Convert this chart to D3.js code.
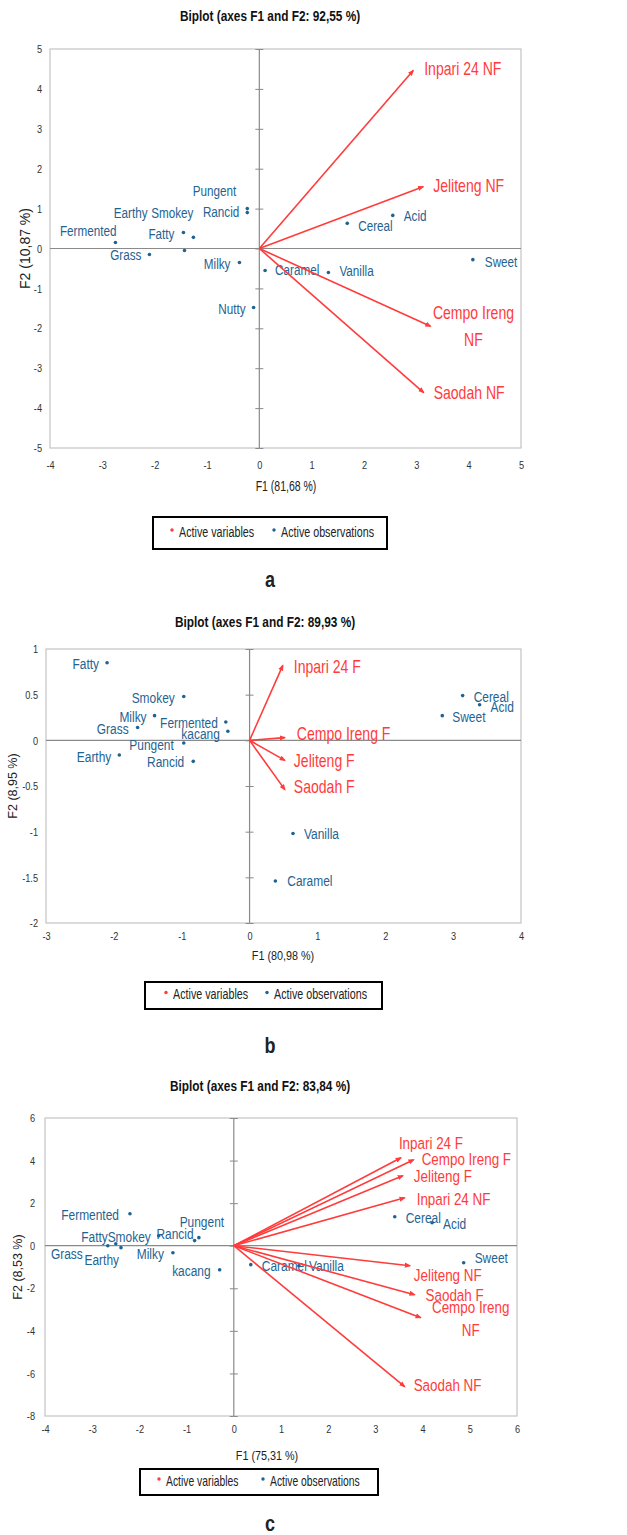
<!DOCTYPE html>
<html>
<head>
<meta charset="utf-8">
<script src="https://cdn.jsdelivr.net/npm/d3@7"></script>
<style>
  body { margin: 0; background: #fff; }
  svg { display: block; }
  .lbl { font-family: "Liberation Sans", Arial, sans-serif; }
  .ttl { font-family: "Liberation Sans", Arial, sans-serif; font-weight: bold; }
</style>
</head>
<body>
<svg id="chart" width="627" height="1535"></svg>
<script>
// ---- panel a ----
const aVarNames = ["Inpari 24 NF", "Jeliteng NF", "Cempo Ireng NF", "Saodah NF"];
const aVarF1 = [2.94, 3.13, 3.27, 3.14];
const aVarF2 = [4.46, 1.55, -1.95, -3.61];
const aObsNames = ["Fermented", "Earthy", "Smokey", "Fatty", "Grass", "Milky", "Nutty", "Pungent", "Rancid", "Caramel", "Vanilla", "Cereal", "Acid", "Sweet"];
const aObsF1 = [-2.75, -1.43, -1.26, -1.45, -2.10, -0.38, -0.11, -0.23, -0.23, 0.11, 1.32, 1.68, 2.55, 4.08];
const aObsF2 = [0.15, -0.05, 0.28, 0.40, -0.15, -0.35, -1.48, 1.00, 0.90, -0.55, -0.60, 0.63, 0.83, -0.28];
const aXTicks = [-4, -3, -2, -1, 0, 1, 2, 3, 4, 5];
const aYTicks = [-5, -4, -3, -2, -1, 0, 1, 2, 3, 4, 5];

// ---- panel b ----
const bVarNames = ["Inpari 24 F", "Cempo Ireng F", "Jeliteng F", "Saodah F"];
const bVarF1 = [0.49, 0.52, 0.52, 0.52];
const bVarF2 = [0.82, 0.03, -0.22, -0.54];
const bObsNames = ["Fatty", "Smokey", "Milky", "Grass", "Fermented", "kacang", "Pungent", "Earthy", "Rancid", "Cereal", "Acid", "Sweet", "Vanilla", "Caramel"];
const bObsF1 = [-2.10, -0.97, -1.40, -1.65, -0.35, -0.32, -0.97, -1.92, -0.83, 3.14, 3.39, 2.84, 0.64, 0.38];
const bObsF2 = [0.85, 0.48, 0.27, 0.14, 0.20, 0.10, -0.03, -0.16, -0.23, 0.49, 0.39, 0.27, -1.02, -1.54];
const bXTicks = [-3, -2, -1, 0, 1, 2, 3, 4];
const bYTicks = [-2, -1.5, -1, -0.5, 0, 0.5, 1];

// ---- panel c ----
const cVarNames = ["Inpari 24 F", "Cempo Ireng F", "Jeliteng F", "Inpari 24 NF", "Jeliteng NF", "Saodah F", "Cempo Ireng NF", "Saodah NF"];
const cVarF1 = [3.54, 3.81, 3.58, 3.62, 3.73, 3.83, 3.96, 3.62];
const cVarF2 = [4.13, 4.04, 3.29, 2.25, -0.94, -2.30, -3.38, -6.62];
const cObsNames = ["Fermented", "Pungent", "Rancid", "Smokey", "Fatty", "Grass", "Earthy", "Milky", "kacang", "Caramel", "Vanilla", "Cereal", "Acid", "Sweet"];
const cObsF1 = [-2.20, -0.74, -0.83, -1.59, -2.50, -2.67, -2.39, -1.29, -0.30, 0.36, 1.38, 3.41, 4.20, 4.87];
const cObsF2 = [1.50, 0.38, 0.24, 0.47, 0.09, 0.00, -0.09, -0.33, -1.13, -0.89, -0.94, 1.36, 1.08, -0.80];
const cXTicks = [-4, -3, -2, -1, 0, 1, 2, 3, 4, 5, 6];
const cYTicks = [-8, -6, -4, -2, 0, 2, 4, 6];

// label placement: [dx, dy, anchor] from the point, in px
const aPlace = {
  "Inpari 24 NF": [11, 0, "start"], "Jeliteng NF": [10, 1, "start"], "Cempo Ireng NF": [43, -12, "middle"], "Saodah NF": [10, 2, "start"],
  Fermented: [1, -10, "end"], Earthy: [-37, -36, "end"], Smokey: [0, -23, "end"], Fatty: [-9, 3, "end"],
  Grass: [-8, 2, "end"], Milky: [-9, 3, "end"], Nutty: [-8, 2, "end"], Pungent: [-11, -17, "end"], Rancid: [-8, 0, "end"],
  Caramel: [10, 1, "start"], Vanilla: [11, 0, "start"], Cereal: [11, 4, "start"], Acid: [11, 2, "start"], Sweet: [12, 3, "start"]
};
const bPlace = {
  "Inpari 24 F": [11, 3, "start"], "Cempo Ireng F": [12, -2, "start"], "Jeliteng F": [9, 2, "start"], "Saodah F": [9, -1, "start"],
  Fatty: [-8, 2, "end"], Smokey: [-9, 2, "end"], Milky: [-8, 2, "end"], Grass: [-9, 2, "end"], Fermented: [-8, 2, "end"],
  kacang: [-8, 4, "end"], Pungent: [-10, 3, "end"], Earthy: [-8, 3, "end"], Rancid: [-9, 2, "end"],
  Cereal: [11, 2, "start"], Acid: [11, 3, "start"], Sweet: [10, 2, "start"], Vanilla: [11, 1, "start"], Caramel: [12, 1, "start"]
};
const cPlace = {
  "Inpari 24 F": [-2, -13, "start"], "Cempo Ireng F": [8, 1, "start"], "Jeliteng F": [11, 2, "start"], "Inpari 24 NF": [12, 3, "start"],
  "Jeliteng NF": [4, 11, "start"], "Saodah F": [11, 2, "start"], "Cempo Ireng NF": [50, -9, "middle"], "Saodah NF": [9, 0, "start"],
  Fermented: [-11, 2, "end"], Pungent: [3, -15, "middle"], Rancid: [-1, -6, "end"], Smokey: [-8, 2, "end"], Fatty: [-8, -6, "end"],
  Grass: [-25, 9, "end"], Earthy: [-2, 13, "end"], Milky: [-9, 2, "end"], kacang: [-9, 2, "end"],
  Caramel: [11, 2, "start"], Vanilla: [10, 1, "start"], Cereal: [11, 2, "start"], Acid: [11, 2, "start"], Sweet: [11, -4, "start"]
};

const RED = "#ff3b3b";
const BLUE = "#1f6391";
const NARROW = 0.78; // source picture is squeezed sideways
const svg = d3.select("#chart");

svg.append("defs").append("marker")
  .attr("id", "arr")
  .attr("viewBox", "0 0 10 10")
  .attr("refX", 8).attr("refY", 5)
  .attr("markerWidth", 4).attr("markerHeight", 4)
  .attr("orient", "auto")
  .append("path").attr("d", "M0,1 L10,5 L0,9 Z").attr("fill", RED);

function squeeze(px, py, s) {
  return `translate(${px},${py}) scale(${s},1)`;
}

function drawPanel(p) {
  const g = svg.append("g");
  const x = d3.scaleLinear().domain(p.xDom).range([p.left, p.right]);
  const y = d3.scaleLinear().domain(p.yDom).range([p.bottom, p.top]);

  g.append("text").attr("class", "ttl")
    .attr("transform", squeeze(p.titleX, p.titleY, 0.79))
    .attr("text-anchor", "middle").attr("dominant-baseline", "middle")
    .attr("font-size", 15).attr("fill", "#111")
    .text(p.title);

  // frame
  g.append("rect")
    .attr("x", p.left).attr("y", p.top)
    .attr("width", p.right - p.left).attr("height", p.bottom - p.top)
    .attr("fill", "none").attr("stroke", "#c4c4c4").attr("stroke-width", 1.2);

  // tick labels on the frame
  const yAx = g.append("g").attr("transform", `translate(${p.left},0)`)
    .call(d3.axisLeft(y).tickValues(p.yTicks).tickSize(0).tickPadding(p.yPad).tickFormat(d => String(d)));
  const xAx = g.append("g").attr("transform", `translate(0,${p.bottom})`)
    .call(d3.axisBottom(x).tickValues(p.xTicks).tickSize(0).tickPadding(p.xPad).tickFormat(d => String(d)));
  [yAx, xAx].forEach(a => {
    a.select(".domain").remove();
    a.selectAll("text").attr("class", "lbl").attr("font-size", 11.5).attr("fill", "#333");
  });
  // narrow the tick labels about their anchor
  yAx.selectAll(".tick text").attr("transform", `translate(${-p.yPad},0) scale(0.8,1) translate(${p.yPad},0)`);
  xAx.selectAll(".tick text").attr("transform", "scale(0.8,1)");

  // zero lines, ticks on the vertical one
  g.append("line")
    .attr("x1", p.left).attr("x2", p.right).attr("y1", y(0)).attr("y2", y(0))
    .attr("stroke", "#8a8a8a").attr("stroke-width", 1.2);
  [d3.axisLeft(y), d3.axisRight(y)].forEach(ax => {
    const a = g.append("g").attr("transform", `translate(${x(0)},0)`)
      .call(ax.tickValues(p.yTicks).tickSize(4).tickFormat(""));
    a.select(".domain").remove();
    a.selectAll("line").attr("stroke", "#8a8a8a");
  });
  g.append("line")
    .attr("x1", x(0)).attr("x2", x(0)).attr("y1", p.top).attr("y2", p.bottom)
    .attr("stroke", "#8a8a8a").attr("stroke-width", 1.2);

  // axis titles
  g.append("text").attr("class", "lbl")
    .attr("transform", squeeze(p.xTitleX, p.xTitleY, p.xTitleScale))
    .attr("text-anchor", "middle").attr("dominant-baseline", "middle")
    .attr("font-size", p.xTitleSize).attr("fill", "#222")
    .text(p.xTitle);
  g.append("text").attr("class", "lbl")
    .attr("transform", `translate(${p.yTitleX},${(p.top + p.bottom) / 2}) rotate(-90)`)
    .attr("text-anchor", "middle").attr("dominant-baseline", "middle")
    .attr("font-size", p.yTitleSize).attr("fill", "#222")
    .text(p.yTitle);

  // observations
  const obs = p.obsNames.map((n, i) => ({ n, f1: p.obsF1[i], f2: p.obsF2[i] }));
  g.selectAll("circle.obs").data(obs).join("circle")
    .attr("class", "obs")
    .attr("cx", d => x(d.f1)).attr("cy", d => y(d.f2))
    .attr("r", 1.8).attr("fill", BLUE);
  g.selectAll("text.obsl").data(obs).join("text")
    .attr("class", "lbl obsl")
    .attr("transform", d => squeeze(x(d.f1) + p.place[d.n][0], y(d.f2) + p.place[d.n][1], NARROW))
    .attr("text-anchor", d => p.place[d.n][2])
    .attr("dominant-baseline", "middle")
    .attr("font-size", p.obsSize).attr("fill", BLUE)
    .text(d => d.n);

  // variables
  const vars = p.varNames.map((n, i) => ({ n, f1: p.varF1[i], f2: p.varF2[i] }));
  g.selectAll("line.vec").data(vars).join("line")
    .attr("class", "vec")
    .attr("x1", x(0)).attr("y1", y(0))
    .attr("x2", d => x(d.f1)).attr("y2", d => y(d.f2))
    .attr("stroke", RED).attr("stroke-width", 1.6)
    .attr("marker-end", "url(#arr)");
  const vl = g.selectAll("text.varl").data(vars).join("text")
    .attr("class", "lbl varl")
    .attr("transform", d => squeeze(x(d.f1) + p.place[d.n][0], y(d.f2) + p.place[d.n][1], NARROW))
    .attr("text-anchor", d => p.place[d.n][2])
    .attr("dominant-baseline", "middle")
    .attr("font-size", p.varSize).attr("fill", RED);
  vl.each(function (d) {
    const t = d3.select(this);
    if (d.n === "Cempo Ireng NF") {
      t.append("tspan").attr("x", 0).text("Cempo Ireng");
      t.append("tspan").attr("x", 0).attr("dy", p.lineGap).text("NF");
    } else {
      t.text(d.n);
    }
  });

  // legend
  const L = p.legend;
  g.append("rect")
    .attr("x", L.x0).attr("y", L.y0).attr("width", L.x1 - L.x0).attr("height", L.y1 - L.y0)
    .attr("fill", "#fff").attr("stroke", "#000").attr("stroke-width", 2);
  const ly = (L.y0 + L.y1) / 2;
  [[L.rx, RED, "Active variables"], [L.bx, BLUE, "Active observations"]].forEach(([lx, col, txt]) => {
    g.append("circle").attr("cx", lx).attr("cy", ly - 3).attr("r", 1.7).attr("fill", col);
    g.append("text").attr("class", "lbl")
      .attr("transform", squeeze(lx + 7, ly, 0.74))
      .attr("dominant-baseline", "middle")
      .attr("font-size", L.size).attr("fill", "#222").text(txt);
  });

  g.append("text").attr("class", "ttl")
    .attr("transform", squeeze(270, p.letterY, 0.82))
    .attr("text-anchor", "middle")
    .attr("font-size", 22).attr("fill", "#222")
    .text(p.letter);
}

drawPanel({
  title: "Biplot (axes F1 and F2: 92,55 %)", titleX: 270, titleY: 17,
  left: 50, right: 521, top: 49, bottom: 448,
  xDom: [-4, 5], yDom: [-5, 5], xTicks: aXTicks, yTicks: aYTicks, yPad: 8, xPad: 13,
  xTitle: "F1 (81,68 %)", xTitleX: 286, xTitleY: 487, xTitleSize: 15, xTitleScale: 0.7,
  yTitle: "F2 (10,87 %)", yTitleX: 26, yTitleSize: 14,
  obsNames: aObsNames, obsF1: aObsF1, obsF2: aObsF2,
  varNames: aVarNames, varF1: aVarF1, varF2: aVarF2,
  place: aPlace, obsSize: 15, varSize: 18, lineGap: 27,
  legend: { x0: 153, x1: 387, y0: 517, y1: 549, rx: 172, bx: 274, size: 14.5 },
  letter: "a", letterY: 587
});

drawPanel({
  title: "Biplot (axes F1 and F2: 89,93 %)", titleX: 265, titleY: 623,
  left: 46, right: 521, top: 649, bottom: 923,
  xDom: [-3, 4], yDom: [-2, 1], xTicks: bXTicks, yTicks: bYTicks, yPad: 8, xPad: 9,
  xTitle: "F1 (80,98 %)", xTitleX: 283, xTitleY: 956, xTitleSize: 13.5, xTitleScale: 0.8,
  yTitle: "F2 (8,95 %)", yTitleX: 14, yTitleSize: 12.5,
  obsNames: bObsNames, obsF1: bObsF1, obsF2: bObsF2,
  varNames: bVarNames, varF1: bVarF1, varF2: bVarF2,
  place: bPlace, obsSize: 15.3, varSize: 18, lineGap: 27,
  legend: { x0: 145, x1: 382, y0: 982, y1: 1009, rx: 166, bx: 267, size: 14.5 },
  letter: "b", letterY: 1053
});

drawPanel({
  title: "Biplot (axes F1 and F2: 83,84 %)", titleX: 260, titleY: 1087,
  left: 45, right: 517, top: 1118, bottom: 1416,
  xDom: [-4, 6], yDom: [-8, 6], xTicks: cXTicks, yTicks: cYTicks, yPad: 10, xPad: 9,
  xTitle: "F1 (75,31 %)", xTitleX: 267, xTitleY: 1456, xTitleSize: 13.5, xTitleScale: 0.8,
  yTitle: "F2 (8,53 %)", yTitleX: 19, yTitleSize: 12.5,
  obsNames: cObsNames, obsF1: cObsF1, obsF2: cObsF2,
  varNames: cVarNames, varF1: cVarF1, varF2: cVarF2,
  place: cPlace, obsSize: 15.3, varSize: 17.2, lineGap: 23,
  legend: { x0: 140, x1: 378, y0: 1469, y1: 1495, rx: 159, bx: 263, size: 14 },
  letter: "c", letterY: 1531
});
</script>
</body>
</html>
